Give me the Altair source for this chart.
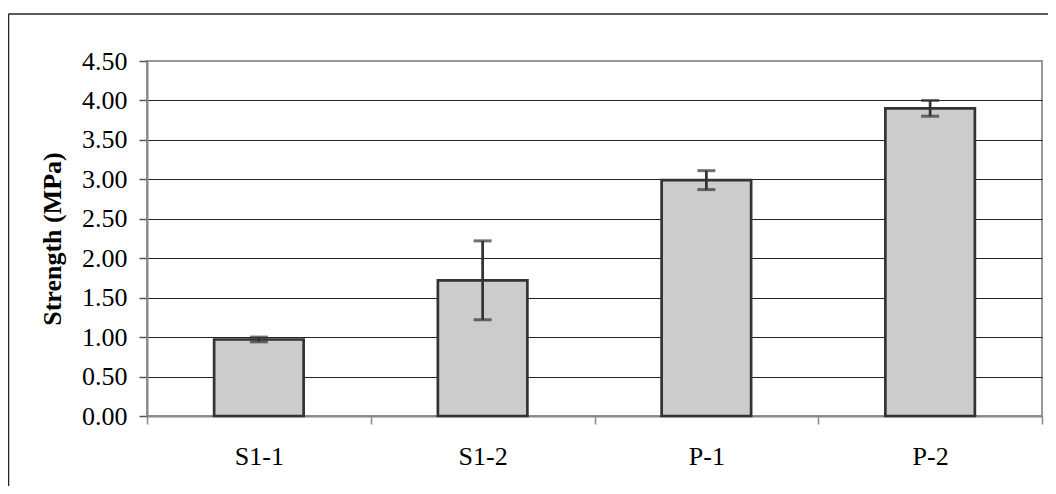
import altair as alt
import pandas as pd

categories = ["S1-1", "S1-2", "P-1", "P-2"]
strength = [0.97, 1.72, 2.99, 3.90]
error = [0.03, 0.50, 0.12, 0.10]
y_ticks = [0.0, 0.5, 1.0, 1.5, 2.0, 2.5, 3.0, 3.5, 4.0, 4.5]

df = pd.DataFrame({
    "cat": categories,
    "val": strength,
    "lo": [v - e for v, e in zip(strength, error)],
    "hi": [v + e for v, e in zip(strength, error)],
})

W, H = 895, 355
FONT = "Liberation Serif"

y_scale = alt.Scale(domain=[0, 4.5], nice=False)
x_enc = alt.X("cat:N", sort=categories, title=None,
              scale=alt.Scale(paddingInner=0, paddingOuter=0))

base = alt.Chart(df)

bars = base.mark_bar(
    fill="#cccccc", stroke="#333333", strokeWidth=2.7,
    width=alt.RelativeBandSize(0.4),
).encode(
    x=x_enc,
    y=alt.Y("val:Q", title="Strength (MPa)", scale=y_scale),
)

err = base.mark_rule(color="#333333", strokeWidth=2.7).encode(
    x=x_enc,
    y=alt.Y("lo:Q", title="Strength (MPa)", scale=y_scale),
    y2="hi:Q",
)

cap_lo = base.mark_tick(color="#333333", thickness=3, size=18).encode(
    x=x_enc, y=alt.Y("lo:Q", title="Strength (MPa)", scale=y_scale)
)
cap_hi = base.mark_tick(color="#333333", thickness=3, size=18).encode(
    x=x_enc, y=alt.Y("hi:Q", title="Strength (MPa)", scale=y_scale)
)

frame_top = alt.Chart(pd.DataFrame({"a": [0]})).mark_rule(
    color="#222222", strokeWidth=1.5
).encode(x=alt.value(-138.5), x2=alt.value(W + 20), y=alt.value(-47))
frame_left = alt.Chart(pd.DataFrame({"a": [0]})).mark_rule(
    color="#222222", strokeWidth=1.5
).encode(x=alt.value(-138.5), y=alt.value(-47), y2=alt.value(H + 80))

chart = alt.layer(bars, err, cap_lo, cap_hi, frame_top, frame_left).properties(
    width=W,
    height=H,
    background="white",
    autosize=alt.AutoSizeParams(type="none"),
    padding={"left": 139, "top": 53, "right": 6, "bottom": 70},
).configure_view(
    stroke="#999999", strokeWidth=2
).configure_axis(
    labelFont=FONT,
    labelFontSize=26,
    labelColor="#000000",
    titleFont=FONT,
    titleFontSize=26,
    titleFontWeight="bold",
    titleColor="#000000",
    labelOverlap=False,
    domainColor="#888888",
    domainWidth=2,
    tickSize=8,
    tickWidth=1.5,
).configure_axisX(
    tickBand="extent",
    tickColor="#888888",
    labelPadding=19,
    labelAngle=0,
    grid=False,
).configure_axisY(
    values=y_ticks,
    format=".2f",
    tickColor="#555555",
    labelPadding=12,
    labelFlush=False,
    titlePadding=16,
    grid=True,
    gridColor={"condition": {"test": "datum.value >= 4.5", "value": "#999999"}, "value": "#222222"},
    gridWidth=1,
)

chart.save("out.html", embed_options={"renderer": "svg", "actions": False})
